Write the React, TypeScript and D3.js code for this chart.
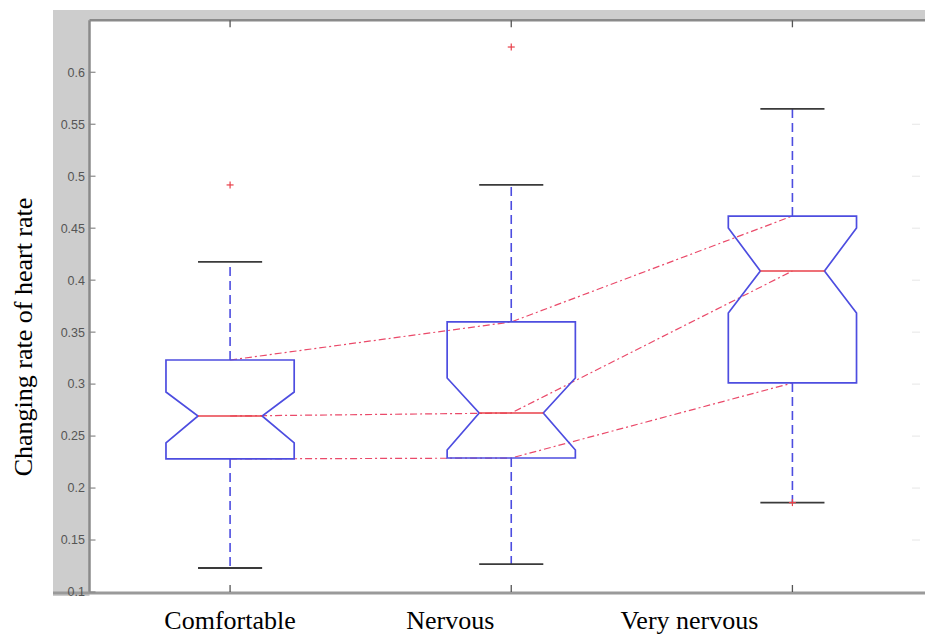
import React from "react";
import * as d3 from "d3";

const categories = ["Comfortable", "Nervous", "Very nervous"];
const upperWhisker = [0.4175, 0.4916, 0.5647];
const q3 = [0.3232, 0.3598, 0.4617];
const notchHigh = [0.2924, 0.3059, 0.4502];
const median = [0.2693, 0.2722, 0.4088];
const notchLow = [0.2434, 0.2366, 0.3684];
const q1 = [0.228, 0.2289, 0.3011];
const lowerWhisker = [0.1231, 0.1269, 0.186];
const outliers = [[0.4916], [0.6243], [0.186]];
const yTicks = [0.1, 0.15, 0.2, 0.25, 0.3, 0.35, 0.4, 0.45, 0.5, 0.55, 0.6];
const yTickLabels = ["0.1", "0.15", "0.2", "0.25", "0.3", "0.35", "0.4", "0.45", "0.5", "0.55", "0.6"];

const W = 925;
const H = 634;
const labelOffsetPx = [0, -61, -103];

export default function App() {
  const x = d3.scaleLinear().domain([0.5, 3.5]).range([89.5, 933]);
  const y = d3.scaleLinear().domain([0.1, 0.65]).range([592, 20.3]);
  const idx = categories.map((_, i) => i + 1);
  const halfW = 0.228;
  const blue = "#4d4de0";
  const red = "#e8404a";

  const connLine = d3
    .line<number>()
    .x((_, i) => x(idx[i]))
    .y((d) => y(d));

  const boxPath = (i: number) => {
    const c = idx[i];
    const pts: [number, number][] = [
      [x(c - halfW), y(q1[i])],
      [x(c - halfW), y(notchLow[i])],
      [x(c - halfW / 2), y(median[i])],
      [x(c - halfW), y(notchHigh[i])],
      [x(c - halfW), y(q3[i])],
      [x(c + halfW), y(q3[i])],
      [x(c + halfW), y(notchHigh[i])],
      [x(c + halfW / 2), y(median[i])],
      [x(c + halfW), y(notchLow[i])],
      [x(c + halfW), y(q1[i])],
    ];
    return d3.line()(pts) + "Z";
  };

  const plotLeft = 89.5;
  const plotTop = y(0.65);
  const plotBottom = y(0.1);

  return (
    <svg
      width={W}
      height={H}
      style={{ position: "absolute", left: 0, top: 0, background: "#fff" }}
    >
      {/* gray figure frame */}
      <rect x={53} y={10} width={W - 53} height={plotTop - 10} fill="#cdcdcd" />
      <rect x={53} y={10} width={plotLeft - 53} height={596 - 10} fill="#cdcdcd" />
      {/* plot background */}
      <rect x={plotLeft} y={plotTop} width={W - plotLeft} height={plotBottom - plotTop} fill="#fff" />

      {/* faint right-side ghost ticks */}
      {yTicks.slice(1, 10).map((t, i) => (
        <line key={"gr" + i} x1={912} x2={920} y1={y(t)} y2={y(t)} stroke="#e6e6e6" strokeWidth={1} />
      ))}

      {/* connecting dash-dot lines */}
      {[q3, median, q1].map((arr, k) => (
        <path
          key={"c" + k}
          d={connLine(arr) || ""}
          fill="none"
          stroke="#ea4a6a"
          strokeWidth={1.2}
          strokeDasharray="7 3 2 3"
        />
      ))}

      {/* boxes */}
      {categories.map((cat, i) => {
        const cx = x(idx[i]);
        const capL = x(idx[i] - halfW / 2);
        const capR = x(idx[i] + halfW / 2);
        return (
          <g key={cat}>
            <line x1={cx} x2={cx} y1={y(q3[i])} y2={y(upperWhisker[i])} stroke={blue} strokeWidth={1.6} strokeDasharray="9 5" />
            <line x1={cx} x2={cx} y1={y(q1[i])} y2={y(lowerWhisker[i])} stroke={blue} strokeWidth={1.6} strokeDasharray="9 5" />
            <line x1={capL} x2={capR} y1={y(upperWhisker[i])} y2={y(upperWhisker[i])} stroke="#3a3a3a" strokeWidth={1.8} />
            <line x1={capL} x2={capR} y1={y(lowerWhisker[i])} y2={y(lowerWhisker[i])} stroke="#3a3a3a" strokeWidth={1.8} />
            <path d={boxPath(i)} fill="none" stroke={blue} strokeWidth={1.7} />
            <line
              x1={x(idx[i] - halfW / 2)}
              x2={x(idx[i] + halfW / 2)}
              y1={y(median[i])}
              y2={y(median[i])}
              stroke={red}
              strokeWidth={1.7}
            />
            {outliers[i].map((o, j) => (
              <g key={j} stroke={red} strokeWidth={1.2}>
                <line x1={cx - 3.5} x2={cx + 3.5} y1={y(o)} y2={y(o)} />
                <line x1={cx} x2={cx} y1={y(o) - 3.5} y2={y(o) + 3.5} />
              </g>
            ))}
          </g>
        );
      })}

      {/* axes lines */}
      <line x1={plotLeft} x2={W} y1={plotTop} y2={plotTop} stroke="#8a8a8a" strokeWidth={2.5} />
      <line x1={plotLeft} x2={plotLeft} y1={plotTop} y2={plotBottom + 1} stroke="#8a8a8a" strokeWidth={2.5} />
      <line x1={53} x2={W} y1={plotBottom + 1} y2={plotBottom + 1} stroke="#9a9a9a" strokeWidth={3} />

      {/* y ticks */}
      {yTicks.map((t, i) => (
        <g key={"yt" + i}>
          <line x1={plotLeft} x2={plotLeft + 6} y1={y(t)} y2={y(t)} stroke="#888" strokeWidth={1.2} />
          <text
            x={85}
            y={y(t)}
            dy="0.35em"
            textAnchor="end"
            fontFamily="Liberation Sans, Arial, sans-serif"
            fontSize={12.5}
            fill="#555"
          >
            {yTickLabels[i]}
          </text>
        </g>
      ))}

      {/* x ticks top & bottom */}
      {idx.map((c, i) => (
        <g key={"xt" + i}>
          <line x1={x(c)} x2={x(c)} y1={plotBottom} y2={plotBottom - 7} stroke="#555" strokeWidth={1.3} />
          <line x1={x(c)} x2={x(c)} y1={plotTop} y2={plotTop + 7} stroke="#555" strokeWidth={1.3} />
        </g>
      ))}

      {/* x labels */}
      {categories.map((cat, i) => (
        <text
          key={"xl" + i}
          x={x(idx[i]) + labelOffsetPx[i]}
          y={629}
          textAnchor="middle"
          fontFamily="Liberation Serif, Times New Roman, serif"
          fontSize={26}
          fill="#000"
        >
          {cat}
        </text>
      ))}

      {/* y title */}
      <text
        transform="translate(32,337) rotate(-90)"
        textAnchor="middle"
        fontFamily="Liberation Serif, Times New Roman, serif"
        fontSize={26}
        fill="#000"
      >
        Changing rate of heart rate
      </text>
    </svg>
  );
}
